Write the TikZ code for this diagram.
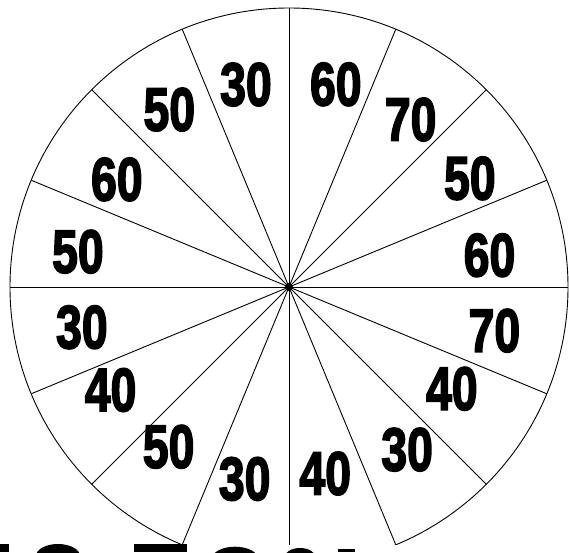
\documentclass[tikz,border=0pt]{standalone}
\usepackage{fontspec}
\setmainfont{Liberation Sans}
\newfontfamily\wheelfont[FakeBold=3]{Liberation Sans Bold}
\usetikzlibrary{positioning}

\newcommand{\wheelnum}[1]{\scalebox{0.76}[1]{#1}}

\begin{document}
\begin{tikzpicture}[
    x=1pt, y=1pt,
    rim/.style={line width=0.9pt, black},
    spoke/.style={line width=0.9pt, black},
    hub/.style={circle, fill=black, inner sep=0pt, minimum size=8pt},
    valuelabel/.style={font=\fontsize{61}{61}\wheelfont, inner sep=0pt},
    fragment/.style={fill=black},
]
\useasboundingbox (-289,-265) rectangle (280,287);

% ---- Wheel: rim and 16 spokes ----
\node[hub] (hub) at (0,0) {};
\begin{scope}
  \clip (-289,-257) rectangle (280,287);
  \draw[rim] (hub.center) circle (279);
  \foreach \a [count=\i] in {0,22.5,...,337.5}
    \coordinate (rim\i) at (\a:279);
  \foreach \i in {1,...,16}
    \draw[spoke] (hub.center) -- (rim\i);
\end{scope}

% ---- Sector values, clockwise from the top ----
\foreach \ang/\rad/\val [count=\i] in {
    102/207/30, 77/208/60, 54/207/70, 31/211/50,
    9/203/60, -12/210/70, -32/192/40, -54/201/30,
    -79/190/40, -103/197/30, -127/200/50, -150/206/40,
    -169/211/30, 170.5/214/50, 148/203/60, 124/214/50}
  \node[valuelabel] (val\i) at (\ang:\rad) {\wheelnum{\val}};

% ---- Cut-off title letters at the bottom edge ----
\begin{scope}
  \clip (-289,-265) rectangle (280,287);
  \fill[fragment] (-289,-265) rectangle (-280,-257);
  \fill[fragment] (-231,-269) ellipse (22 and 12);
  \fill[fragment] (-155,-265) rectangle (-102,-257);
  \fill[fragment] (-54,-271.7) ellipse (23 and 12);
  \fill[fragment] (11,-271) ellipse (16 and 10);
  \fill[fragment] (49,-265) rectangle (66,-262);
\end{scope}

\end{tikzpicture}
\end{document}
